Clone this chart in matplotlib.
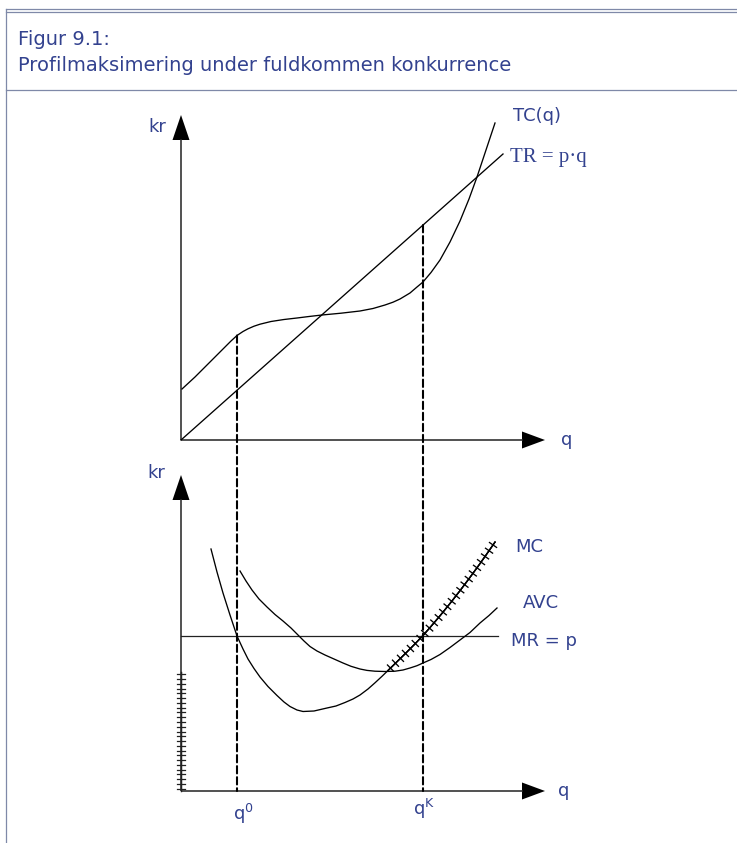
import matplotlib
matplotlib.use('Agg')
import matplotlib.pyplot as plt
import matplotlib.patheffects as pe
from matplotlib.patches import ConnectionPatch

FIG_W, FIG_H = 737, 843
TEXT_C = '#33428f'
BORDER_C = '#7f89a8'

# top panel: total cost and total revenue
TC_Q = [0.1, 1.4, 2.9, 4.4, 5.0, 5.6, 6.2, 6.7, 7.3, 7.9, 9.0, 10.3, 11.6, 12.8, 14.1, 16.0,
        17.9, 19.2, 20.4, 21.2, 21.9, 22.9, 23.6, 24.2, 25.0, 25.9, 26.9, 27.9, 28.8, 29.6,
        30.5, 31.4]
TC_KR = [5.1, 6.3, 7.8, 9.3, 9.9, 10.45, 10.85, 11.12, 11.38, 11.58, 11.85, 12.05, 12.2, 12.35,
         12.5, 12.68, 12.9, 13.15, 13.5, 13.78, 14.1, 14.7, 15.3, 15.8, 16.75, 18.0, 19.8, 21.9,
         24.1, 26.3, 29.0, 31.7]
TR_Q = [0, 32.2]
TR_KR = [0, 28.6]

# bottom panel: marginal cost, average variable cost, price
MC_Q = [3.0, 3.6, 4.2, 4.9, 5.6, 6.2, 6.7, 7.3, 7.9, 8.7, 9.6, 10.3, 10.9, 11.6, 12.2, 13.3,
        14.6, 15.5, 16.4, 17.2, 17.9, 18.7, 19.4, 20.1, 20.7, 21.5, 22.4, 23.3, 24.2, 25.0,
        25.9, 26.9, 27.9, 28.8, 29.7, 30.5, 31.4]
MC_KR = [24.2, 21.9, 19.8, 17.6, 15.5, 14.2, 13.2, 12.25, 11.4, 10.45, 9.55, 8.9, 8.45, 8.1,
         7.95, 8.0, 8.3, 8.5, 8.85, 9.2, 9.6, 10.2, 10.82, 11.47, 12.05, 12.83, 13.71, 14.61,
         15.55, 16.46, 17.52, 18.75, 20.03, 21.23, 22.46, 23.59, 24.89]
AVC_Q = [5.9, 6.5, 7.1, 7.8, 8.6, 9.4, 10.2, 11.0, 11.7, 12.3, 12.9, 13.6, 14.4, 15.3, 16.2,
         17.0, 17.9, 18.6, 19.4, 20.4, 21.4, 22.2, 22.9, 23.6, 24.2, 25.0, 25.9, 26.9, 27.9,
         28.9, 29.9, 30.8, 31.6]
AVC_KR = [22.0, 21.0, 20.1, 19.2, 18.4, 17.65, 17.0, 16.3, 15.6, 15.0, 14.45, 14.0, 13.6, 13.2,
          12.8, 12.47, 12.2, 12.06, 11.98, 11.95, 11.98, 12.1, 12.3, 12.53, 12.8, 13.15, 13.65,
          14.35, 15.1, 15.85, 16.8, 17.55, 18.3]
MR_Q = [0, 31.7]
MR_P = 15.55

HATCH_FROM = 20.7     # supply curve: MC above min AVC
AVC_MIN = 11.9        # and the price axis below it
Q0 = 5.6
QK = 24.2
X_TIP = 36.4


def panel(fig, ox, oy, x0, x1, y0, y1):
    # origin at pixel (ox, oy), 10 px per unit
    ax = fig.add_axes([(ox + x0 * 10) / FIG_W, (FIG_H - oy + y0 * 10) / FIG_H,
                       (x1 - x0) * 10 / FIG_W, (y1 - y0) * 10 / FIG_H])
    ax.set_xlim(x0, x1)
    ax.set_ylim(y0, y1)
    ax.set_axis_off()
    return ax


def draw_axes(ax, y_tip):
    ax.plot([0, X_TIP - 2.2], [0, 0], c='#222222', lw=1.1, solid_capstyle='butt')
    ax.plot([0, 0], [0, y_tip - 2.4], c='#222222', lw=1.1, solid_capstyle='butt')
    ax.arrow(X_TIP - 2.3, 0, 2.3, 0, width=0.01, head_width=1.7, head_length=2.3,
             length_includes_head=True, fc='k', ec='k', lw=0)
    ax.arrow(0, y_tip - 2.5, 0, 2.5, width=0.01, head_width=1.7, head_length=2.5,
             length_includes_head=True, fc='k', ec='k', lw=0)


def label(ax, x, y, s, **kw):
    kw.setdefault('fontsize', 13)
    ax.text(x, y, s, color=TEXT_C, va='baseline', ha='left', **kw)


plt.rcParams['font.family'] = ['DejaVu Sans']
fig = plt.figure(figsize=(FIG_W / 100, FIG_H / 100), dpi=100)

# frame and header
hdr = fig.add_axes([0, 0, 1, 1])
hdr.set_xlim(0, FIG_W)
hdr.set_ylim(FIG_H, 0)
hdr.set_axis_off()
for yy in (9, 12, 90):
    hdr.plot([6, FIG_W], [yy, yy], c=BORDER_C, lw=0.9)
hdr.plot([6, 6], [9, FIG_H], c=BORDER_C, lw=0.9)
hdr.text(18, 45, 'Figur 9.1:', color=TEXT_C, fontsize=14, va='baseline')
hdr.text(18, 71, 'Profilmaksimering under fuldkommen konkurrence', color=TEXT_C, fontsize=14,
         va='baseline')

# top panel
top = panel(fig, 181, 440, -6, 55, -3.5, 34)
draw_axes(top, 32.5)
top.plot(TC_Q, TC_KR, c='k', lw=0.95)
top.plot(TR_Q, TR_KR, c='k', lw=0.95)
label(top, -3.3, 30.8, 'kr')
label(top, 38.0, -0.5, 'q')
label(top, 33.2, 31.9, 'TC(q)')
label(top, 32.9, 27.8, 'TR = p·q', family='Liberation Serif', fontsize=15)

# bottom panel
bot = panel(fig, 181, 791, -6, 55, -5, 33)
draw_axes(bot, 31.6)
bot.plot(MR_Q, [MR_P, MR_P], c='#222222', lw=0.9)
bot.plot(AVC_Q, AVC_KR, c='k', lw=0.95)
bot.plot(MC_Q, MC_KR, c='k', lw=0.95)

ticks_mc = [pe.withTickedStroke(spacing=5, angle=90, length=0.62),
            pe.withTickedStroke(spacing=5, angle=-90, length=0.62)]
hq = [q for q in MC_Q if q >= HATCH_FROM]
hk = [k for q, k in zip(MC_Q, MC_KR) if q >= HATCH_FROM]
bot.plot(hq, hk, c='k', lw=0.95, path_effects=ticks_mc)

ticks_axis = [pe.withTickedStroke(spacing=3.3, angle=90, length=0.8),
              pe.withTickedStroke(spacing=3.3, angle=-90, length=0.8)]
bot.plot([0, 0], [AVC_MIN, 0], c='#222222', lw=0.9, path_effects=ticks_axis)

label(bot, -3.4, 31.3, 'kr')
label(bot, 37.7, -0.5, 'q')
label(bot, 33.4, 23.9, 'MC')
label(bot, 34.2, 18.3, 'AVC')
label(bot, 33.0, 14.5, 'MR = p')
label(bot, Q0 - 0.4, -2.9, r'q$^{0}$')
label(bot, QK - 1.0, -2.4, r'q$^{\mathrm{K}}$')

# dashed drop lines through both panels
tc_q0 = TC_KR[TC_Q.index(Q0)]
tr_qk = TR_KR[1] / TR_Q[1] * QK
for q, k in ((Q0, tc_q0), (QK, tr_qk)):
    con = ConnectionPatch(xyA=(q, k), coordsA=top.transData, xyB=(q, 0), coordsB=bot.transData,
                          color='k', lw=1.5, linestyle=(0, (3.5, 1.8)))
    fig.add_artist(con)

fig.savefig('out.png', dpi=100)
